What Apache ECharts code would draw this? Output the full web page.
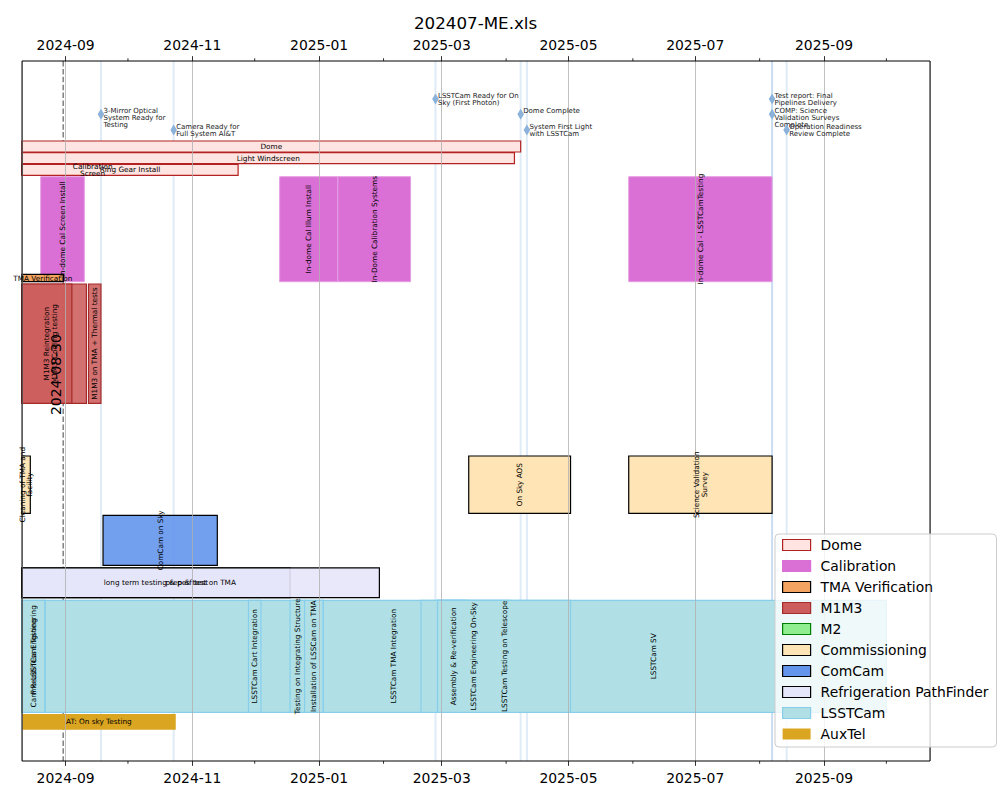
<!DOCTYPE html>
<html><head><meta charset="utf-8">
<script src="https://cdn.jsdelivr.net/npm/echarts@6/dist/echarts.min.js"></script>
<style>html,body{margin:0;padding:0;background:#fff}#chart{width:1000px;height:800px}</style>
</head><body><div id="chart"></div>
<script>
// ---------------- data ----------------
const chartTitle = '202407-ME.xls';
const xMin = '2024-08-11';
const xMax = '2025-10-22';
const tickLabels = ['2024-09', '2024-11', '2025-01', '2025-03', '2025-05', '2025-07', '2025-09'];
const minorTickMonths = ['2024-10', '2024-12', '2025-02', '2025-04', '2025-06', '2025-08', '2025-10'];
const todayText = '2024-08-30';
const todayTime = '2024-08-30T20:00';

const groups = ['Dome', 'Calibration', 'TMA Verification', 'M1M3', 'M2', 'Commissioning',
  'ComCam', 'Refrigeration PathFinder', 'LSSTCam', 'AuxTel'];

// [name, start, end, row]
const domeTasks = [
  ['Dome', '2024-08-11', '2025-04-08', 0],
  ['Light Windscreen', '2024-08-11', '2025-04-05', 1],
  ['Calibration\nScreen', '2024-08-11', '2024-10-18', 2],
  ['Ring Gear Install', '2024-08-11', '2024-11-23', 2]
];
const calibrationTasks = [
  ['In-dome Cal Screen Install', '2024-08-20', '2024-09-10', 0],
  ['In-dome Cal Illum Install', '2024-12-13', '2025-01-10', 0],
  ['In-Dome Calibration Systems', '2025-01-10', '2025-02-14', 0],
  ['In-dome Cal - LSSTCamTesting', '2025-05-30', '2025-08-07', 0]
];
const tmaTasks = [
  ['TMA Verification', '2024-08-11', '2024-08-31', 0]
];
const m1m3Tasks = [
  ['M1M3 Cooling testing', '2024-08-11', '2024-09-11', 0],
  ['M1M3 Reintegration', '2024-08-11', '2024-09-04', 0],
  ['M1M3 on TMA + Thermal tests', '2024-09-12', '2024-09-18', 0]
];
const m2Tasks = [];
const commissioningTasks = [
  ['Cleaning of TMA and\nfacility', '2024-08-11', '2024-08-15', 0],
  ['On Sky AOS', '2025-03-14', '2025-05-02', 0],
  ['Science Validation\nSurvey', '2025-05-30', '2025-08-07', 0]
];
const comcamTasks = [
  ['ComCam on Sky', '2024-09-19', '2024-11-13', 0]
];
const refrigerationTasks = [
  ['long term testing & perf test', '2024-08-11', '2024-12-18', 0],
  ['prep & test on TMA', '2024-08-11', '2025-01-30', 0]
];
const lsstcamTasks = [
  ['', '2024-08-22', '2025-01-03', 0],
  ['Pre-LSSTCam Testing', '2024-08-11', '2024-08-22', 0],
  ['Cam Readiness Engineering', '2024-08-11', '2024-08-22', 0],
  ['LSSTCam Cart Integration', '2024-11-28', '2024-12-04', 0],
  ['Testing on Integrating Structure', '2024-12-18', '2024-12-25', 0],
  ['Installation of LSSCam on TMA', '2024-12-25', '2025-01-03', 0],
  ['LSSTCam TMA Integration', '2025-01-03', '2025-03-12', 0],
  ['LSSTCam SV', '2025-02-19', '2025-10-01', 0],
  ['Assembly & Re-verification', '2025-02-27', '2025-03-14', 0],
  ['LSSTCam Engineering On-Sky', '2025-02-27', '2025-04-03', 0],
  ['LSSTCam Testing on Telescope', '2025-02-27', '2025-05-02', 0]
];
const auxtelTasks = [
  ['AT: On sky Testing', '2024-08-11', '2024-10-24', 0]
];

const milestoneNames = [
  '3-Mirror Optical\nSystem Ready for\nTesting',
  'Camera Ready for\nFull System AI&T',
  'LSSTCam Ready for On\nSky (First Photon)',
  'Dome Complete',
  'System First Light\nwith LSSTCam',
  'Test report: Final\nPipelines Delivery',
  'COMP: Science\nValidation Surveys\nComplete',
  'Operation Readiness\nReview Complete'
];
const milestoneDates = ['2024-09-18', '2024-10-23', '2025-02-26', '2025-04-08', '2025-04-11', '2025-08-07', '2025-08-07', '2025-08-14'];
const milestoneLevels = [1, 2, 0, 1, 2, 0, 1, 2];

// ---------------- layout & styles ----------------
const lanes = {
  'Dome': { top: [80, 91.7, 103.3], height: 11 },
  'Calibration': { top: [115.7], height: 105 },
  'TMA Verification': { top: [213.3], height: 7.4 },
  'M1M3': { top: [223], height: 119.3 },
  'M2': { top: [345], height: 40 },
  'Commissioning': { top: [395], height: 57.3 },
  'ComCam': { top: [454.3], height: 50 },
  'Refrigeration PathFinder': { top: [506.8], height: 29.8 },
  'LSSTCam': { top: [539.3], height: 112 },
  'AuxTel': { top: [653], height: 15.7 }
};
const milestoneY = [38, 53.3, 69];
const todayTextBottom = 354;

const styles = {
  'Dome': { fill: '#ffe4e1', stroke: '#b22222', lw: 1.2, vertical: false },
  'Calibration': { fill: '#da70d6', stroke: '#e59de2', lw: 1, vertical: true, noEdgeLegend: true },
  'TMA Verification': { fill: '#f4a460', stroke: '#000000', lw: 1.2, vertical: false },
  'M1M3': { fill: 'rgba(205,92,92,0.88)', legendFill: '#cd5c5c', stroke: '#a52a2a', lw: 1.2, vertical: true },
  'M2': { fill: '#90ee90', stroke: '#008000', lw: 1.2, vertical: true },
  'Commissioning': { fill: '#ffe4b5', stroke: '#000000', lw: 1.2, vertical: true },
  'ComCam': { fill: 'rgba(100,149,237,0.9)', legendFill: '#6495ed', stroke: '#000000', lw: 1.2, vertical: true },
  'Refrigeration PathFinder': { fill: 'rgba(230,230,250,0.9)', legendFill: '#e6e6fa', stroke: '#000000', lw: 1.2, vertical: false },
  'LSSTCam': { fill: '#b0e0e6', stroke: '#87ceeb', lw: 1.2, vertical: true },
  'AuxTel': { fill: '#daa520', stroke: null, lw: 0, vertical: false }
};
const FONT = '"DejaVu Sans", sans-serif';
const BAR_FONT = '7.3px ' + FONT;
const MS_FONT = '7px ' + FONT;

// ---------------- build ----------------
function T(s) {
  if (s.length === 7) s += '-01';
  if (s.length === 10) s += 'T00:00';
  return Date.parse(s + 'Z');
}
const taskLists = {
  'Dome': domeTasks, 'Calibration': calibrationTasks, 'TMA Verification': tmaTasks, 'M1M3': m1m3Tasks,
  'M2': m2Tasks, 'Commissioning': commissioningTasks, 'ComCam': comcamTasks,
  'Refrigeration PathFinder': refrigerationTasks, 'LSSTCam': lsstcamTasks, 'AuxTel': auxtelTasks
};
const allTasks = [];
groups.forEach(g => {
  taskLists[g].forEach(t => {
    const lane = lanes[g];
    const top = lane.top[t[3] || 0];
    allTasks.push({ group: g, name: t[0], start: T(t[1]), end: T(t[2]), top: top, bottom: top + lane.height });
  });
});

function rectOf(params, api) {
  const p0 = api.coord([api.value(0), api.value(2)]);
  const p1 = api.coord([api.value(1), api.value(3)]);
  const cs = params.coordSys;
  return echarts.graphic.clipRectByRect(
    { x: p0[0], y: p0[1], width: p1[0] - p0[0], height: p1[1] - p0[1] },
    { x: cs.x, y: cs.y, width: cs.width, height: cs.height });
}

const barSeries = groups.map(g => {
  const st = styles[g];
  return {
    type: 'custom', name: g, coordinateSystem: 'cartesian2d', z: 2,
    itemStyle: { color: st.legendFill || st.fill, borderColor: st.stroke || 'transparent' },
    encode: { x: [0, 1], y: [2, 3] },
    data: allTasks.filter(t => t.group === g).map(t => [t.start, t.end, t.top, t.bottom]),
    renderItem: (params, api) => {
      const r = rectOf(params, api);
      if (!r) return;
      return {
        type: 'rect', shape: r,
        style: { fill: st.fill, stroke: st.stroke || null, lineWidth: st.lw }
      };
    }
  };
});

const labelTasks = allTasks.filter(t => t.name);
const labelSeries = {
  type: 'custom', name: 'labels', coordinateSystem: 'cartesian2d', z: 11, silent: true,
  encode: { x: [0, 1], y: [2, 3] },
  data: labelTasks.map(t => [t.start, t.end, t.top, t.bottom]),
  renderItem: (params, api) => {
    const t = labelTasks[params.dataIndex];
    const p0 = api.coord([api.value(0), api.value(2)]);
    const p1 = api.coord([api.value(1), api.value(3)]);
    const vertical = styles[t.group].vertical;
    return {
      type: 'text',
      x: (p0[0] + p1[0]) / 2, y: (p0[1] + p1[1]) / 2,
      rotation: vertical ? Math.PI / 2 : 0,
      style: {
        text: t.name, x: 0, y: 0, font: BAR_FONT, fill: '#000',
        align: 'center', verticalAlign: 'middle', textAlign: 'center', textVerticalAlign: 'middle', lineHeight: 7.6
      }
    };
  }
};

const msData = milestoneDates.map((d, i) => [T(d), milestoneY[milestoneLevels[i]]]);
const msLineSeries = {
  type: 'custom', name: 'milestoneLines', coordinateSystem: 'cartesian2d', z: 1, silent: true,
  encode: { x: 0, y: 1 }, data: msData,
  renderItem: (params, api) => {
    const p = api.coord([api.value(0), api.value(1)]);
    const cs = params.coordSys;
    return { type: 'line', shape: { x1: p[0], y1: cs.y, x2: p[0], y2: cs.y + cs.height },
      style: { stroke: 'rgba(150,190,228,0.3)', lineWidth: 2 } };
  }
};
const msMarkSeries = {
  type: 'custom', name: 'milestones', coordinateSystem: 'cartesian2d', z: 12, silent: true,
  encode: { x: 0, y: 1 }, data: msData,
  renderItem: (params, api) => {
    const p = api.coord([api.value(0), api.value(1)]);
    return { type: 'group', children: [
      { type: 'polygon', shape: { points: [[p[0], p[1] - 5.5], [p[0] + 3.3, p[1]], [p[0], p[1] + 5.5], [p[0] - 3.3, p[1]]] },
        style: { fill: '#8bb2da' } },
      { type: 'text', x: p[0] + 2.5, y: p[1] - 7,
        style: { text: milestoneNames[params.dataIndex], x: 0, y: 0, font: MS_FONT, fill: '#1a1a1a',
          align: 'left', verticalAlign: 'top', textAlign: 'left', textVerticalAlign: 'top', lineHeight: 7 } }
    ] };
  }
};

const todayLineSeries = {
  type: 'custom', name: 'today', coordinateSystem: 'cartesian2d', z: 1, silent: true,
  encode: { x: 0, y: 1 }, data: [[T(todayTime), todayTextBottom]],
  renderItem: (params, api) => {
    const p = api.coord([api.value(0), api.value(1)]);
    const cs = params.coordSys;
    return { type: 'line', shape: { x1: p[0], y1: cs.y, x2: p[0], y2: cs.y + cs.height },
      style: { stroke: '#808080', lineWidth: 1.5, lineDash: [5.5, 2.4] } };
  }
};
const todayTextSeries = {
  type: 'custom', name: 'todayText', coordinateSystem: 'cartesian2d', z: 13, silent: true,
  encode: { x: 0, y: 1 }, data: [[T(todayTime), todayTextBottom]],
  renderItem: (params, api) => {
    const p = api.coord([api.value(0), api.value(1)]);
    return { type: 'text', x: p[0] - 0.5, y: p[1], rotation: Math.PI / 2,
      style: { text: todayText, x: 0, y: 0, font: '13.9px ' + FONT, fill: '#000',
        align: 'left', verticalAlign: 'bottom', textAlign: 'left', textVerticalAlign: 'bottom' } };
  }
};

const minorTickSeries = {
  type: 'custom', name: 'minorTicks', coordinateSystem: 'cartesian2d', z: 10, silent: true, clip: false,
  encode: { x: 0, y: 1 }, data: minorTickMonths.map(m => [T(m), 0]),
  renderItem: (params, api) => {
    const p = api.coord([api.value(0), api.value(1)]);
    const cs = params.coordSys;
    if (p[0] < cs.x || p[0] > cs.x + cs.width) return;
    return { type: 'group', children: [
      { type: 'line', shape: { x1: p[0], y1: cs.y, x2: p[0], y2: cs.y - 2.8 }, style: { stroke: '#000', lineWidth: 0.8 } },
      { type: 'line', shape: { x1: p[0], y1: cs.y + cs.height, x2: p[0], y2: cs.y + cs.height + 2.8 }, style: { stroke: '#000', lineWidth: 0.8 } }
    ] };
  }
};

function fmt(v) {
  const d = new Date(v);
  const s = d.getUTCFullYear() + '-' + String(d.getUTCMonth() + 1).padStart(2, '0');
  return (d.getUTCDate() === 1 && d.getUTCHours() === 0 && tickLabels.includes(s)) ? s : '';
}
const TICK_INT = 70 * 86400000;
function xAxisCfg(pos, split) {
  return {
    type: 'time', position: pos, min: T(xMin), max: T(xMax),
    minInterval: TICK_INT, maxInterval: TICK_INT, splitNumber: 6, z: 9,
    axisLine: { show: false },
    axisTick: { show: true, length: 4.9, inside: false, lineStyle: { color: '#000', width: 0.8 } },
    axisLabel: { formatter: fmt, margin: 9.5, fontSize: 13.9, fontFamily: 'DejaVu Sans', color: '#000', hideOverlap: false },
    splitLine: { show: split, lineStyle: { color: '#b0b0b0', width: 0.8 } },
    minorTick: { show: false }
  };
}

const option = {
  useUTC: true,
  animation: false,
  backgroundColor: '#ffffff',
  title: {
    text: chartTitle, left: 414, top: 14, padding: 0,
    textStyle: { fontSize: 16.7, fontWeight: 'normal', fontFamily: 'DejaVu Sans', color: '#000' }
  },
  grid: { left: 22, right: 70, top: 61, bottom: 39, show: true, z: 10, borderColor: '#000', borderWidth: 1, backgroundColor: 'transparent' },
  xAxis: [xAxisCfg('top', true), xAxisCfg('bottom', false)],
  yAxis: { type: 'value', min: 0, max: 700, inverse: true, show: false },
  legend: {
    orient: 'vertical', left: 775, top: 534, z: 20,
    itemWidth: 28, itemHeight: 11, itemGap: 7,
    padding: [4, 8, 6, 7],
    backgroundColor: 'rgba(255,255,255,0.8)', borderColor: '#cccccc', borderWidth: 1, borderRadius: 4,
    selectedMode: false,
    textStyle: { fontSize: 13.9, fontFamily: 'DejaVu Sans', color: '#000', lineHeight: 14, padding: [0, 0, 0, 5] },
    data: groups.map(g => ({
      name: g, icon: 'rect',
      itemStyle: { color: styles[g].legendFill || styles[g].fill,
        borderColor: (styles[g].noEdgeLegend || !styles[g].stroke) ? styles[g].fill : styles[g].stroke,
        borderWidth: styles[g].stroke ? 1.2 : 0 }
    }))
  },
  series: [msLineSeries, todayLineSeries].concat(barSeries, [labelSeries, msMarkSeries, todayTextSeries, minorTickSeries])
};

const chart = echarts.init(document.getElementById('chart'), null, { renderer: 'svg', width: 1000, height: 800 });
chart.setOption(option);
</script>
</body></html>
